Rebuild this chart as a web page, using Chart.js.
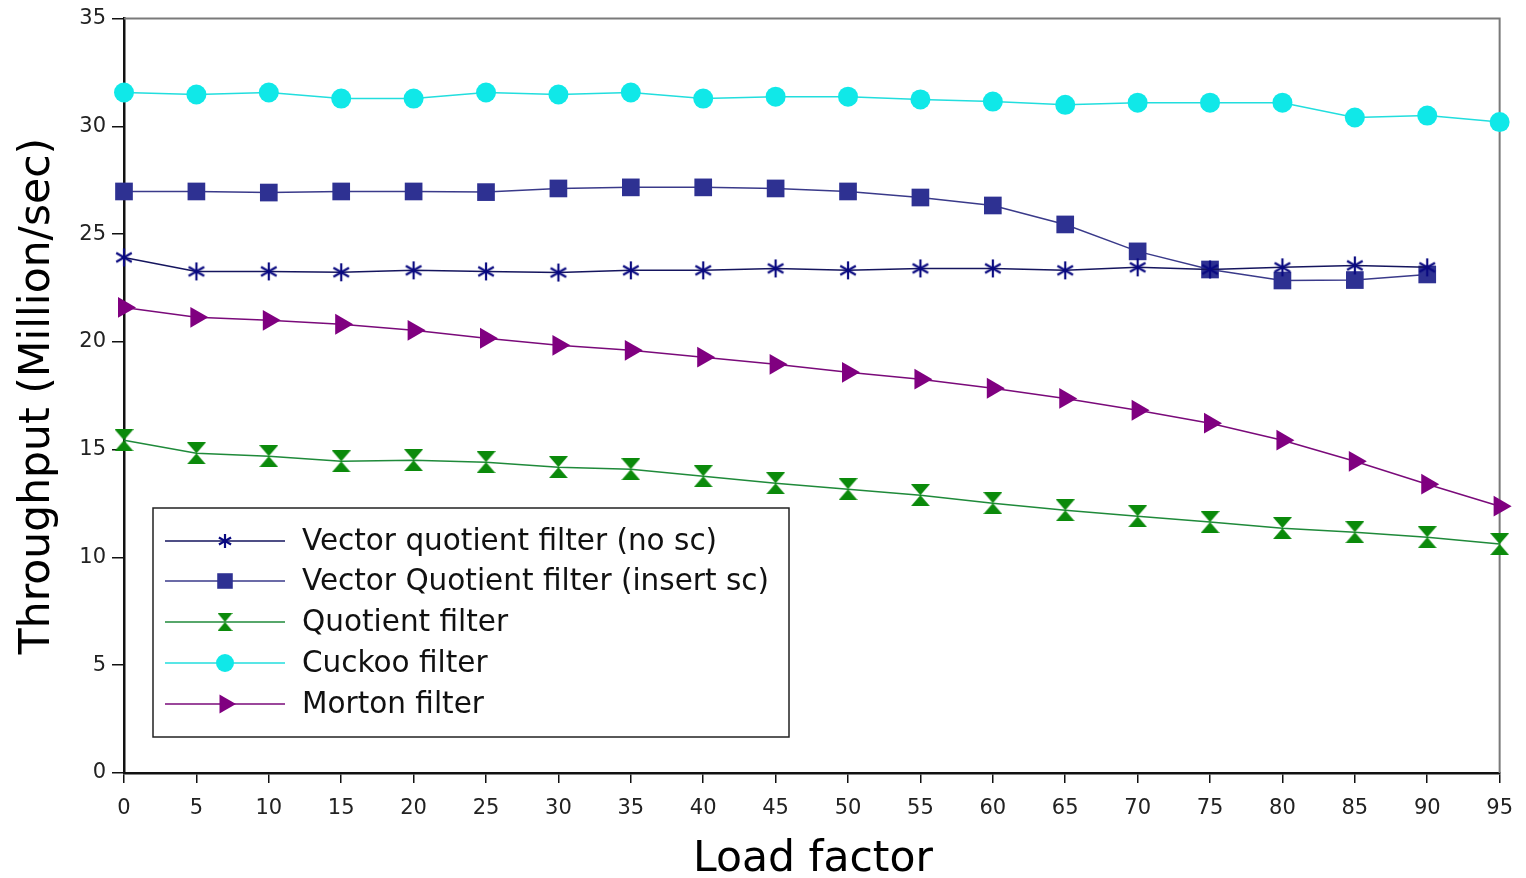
<!DOCTYPE html>
<html>
<head>
<meta charset="utf-8">
<script src="https://cdn.jsdelivr.net/npm/chart.js@4.4.1/dist/chart.umd.min.js"></script>
<style>
    html, body { margin: 0; padding: 0; background: #ffffff; }
    #wrap { width: 1526px; height: 878px; position: relative; }
</style>
</head>
<body>
<div id="wrap"><canvas id="chart"></canvas></div>
<script>
// load factor (%) on the x axis
const loadFactor = [0, 5, 10, 15, 20, 25, 30, 35, 40, 45, 50, 55, 60, 65, 70, 75, 80, 85, 90, 95];

// throughput, million ops / sec
const vqfNoSc     = [23.92, 23.27, 23.27, 23.23, 23.32, 23.27, 23.22, 23.32, 23.32, 23.41, 23.32, 23.41, 23.41, 23.32, 23.46, 23.36, 23.46, 23.55, 23.46, null];
const vqfInsertSc = [26.98, 26.98, 26.93, 26.98, 26.98, 26.95, 27.12, 27.17, 27.17, 27.12, 26.98, 26.70, 26.33, 25.45, 24.20, 23.36, 22.85, 22.87, 23.13, null];
const quotient    = [15.44, 14.83, 14.70, 14.46, 14.51, 14.42, 14.19, 14.09, 13.77, 13.44, 13.17, 12.89, 12.52, 12.19, 11.91, 11.64, 11.36, 11.17, 10.94, 10.62];
const cuckoo      = [31.57, 31.48, 31.57, 31.29, 31.29, 31.57, 31.48, 31.57, 31.29, 31.38, 31.38, 31.25, 31.15, 31.00, 31.10, 31.10, 31.10, 30.41, 30.50, 30.20];
const morton      = [21.60, 21.14, 21.00, 20.82, 20.54, 20.17, 19.84, 19.61, 19.29, 18.96, 18.59, 18.27, 17.85, 17.38, 16.83, 16.23, 15.44, 14.46, 13.40, 12.38];

const seriesNames = [
    'Vector quotient filter (no sc)',
    'Vector Quotient filter (insert sc)',
    'Quotient filter',
    'Cuckoo filter',
    'Morton filter'
];

const yTicks = { min: 0, max: 35, step: 5 };
const xTicks = { min: 0, max: 95, step: 5 };

const PLOT = { left: 124, right: 1503, top: 18, bottom: 773 };
const TEXT_FONT = '"DejaVu Sans"';

function makeAsterisk(size, color)
{
    const c = document.createElement('canvas');
    c.width = size; c.height = size;
    const g = c.getContext('2d');
    const r = size / 2 - 1;
    g.strokeStyle = color;
    g.lineWidth = 2.2;
    g.translate(size / 2, size / 2);
    for (let a of [90, 30, 150])
    {
        const t = a * Math.PI / 180;
        g.beginPath();
        g.moveTo(-r * Math.cos(t), -r * Math.sin(t));
        g.lineTo(r * Math.cos(t), r * Math.sin(t));
        g.stroke();
    }
    return c;
}

function makeHourglass(w, h, color)
{
    const c = document.createElement('canvas');
    c.width = w; c.height = h;
    const g = c.getContext('2d');
    g.fillStyle = color;
    g.beginPath();
    g.moveTo(0, 0); g.lineTo(w, 0); g.lineTo(w / 2, h / 2); g.closePath();
    g.moveTo(0, h); g.lineTo(w, h); g.lineTo(w / 2, h / 2); g.closePath();
    g.fill();
    return c;
}

const starImg = makeAsterisk(20, '#0a0a80');
const hourImg = makeHourglass(19, 22, '#0b8a0b');
const hourImgSmall = makeHourglass(15, 18, '#0b8a0b');
const starImgSmall = makeAsterisk(16, '#0a0a80');

function pts(arr)
{
    return loadFactor.map((x, i) => ({ x: x, y: arr[i] })).filter(p => p.y !== null);
}

const datasets = [
    { label: seriesNames[0], data: pts(vqfNoSc), borderColor: '#15155e', backgroundColor: '#0a0a80',
      pointStyle: starImg, pointRadius: 10, pointRotation: 0 },
    { label: seriesNames[1], data: pts(vqfInsertSc), borderColor: '#3a3a8a', backgroundColor: '#2e3192',
      pointStyle: 'rect', pointRadius: 12.5, pointRotation: 0 },
    { label: seriesNames[2], data: pts(quotient), borderColor: '#1f8a3a', backgroundColor: '#0b8a0b',
      pointStyle: hourImg, pointRadius: 10, pointRotation: 0 },
    { label: seriesNames[3], data: pts(cuckoo), borderColor: '#22dede', backgroundColor: '#10e8e8',
      pointStyle: 'circle', pointRadius: 10, pointRotation: 0 },
    { label: seriesNames[4], data: pts(morton), borderColor: '#7a0a7a', backgroundColor: '#800080',
      pointStyle: 'triangle', pointRadius: 12, pointRotation: 90 }
];

// smaller symbols inside the legend box
const legendStyle = [
    { style: starImgSmall, radius: 8 },
    { style: 'rect', radius: 11 },
    { style: hourImgSmall, radius: 8 },
    { style: 'circle', radius: 9 },
    { style: 'triangle', radius: 11 }
];

datasets.forEach(d =>
{
    d.borderWidth = 1.5;
    d.pointBorderWidth = 0;
    d.pointBorderColor = d.backgroundColor;
    d.pointBackgroundColor = d.backgroundColor;
    d.tension = 0;
    d.clip = false;
});

// frame, axis titles and the boxed legend
const decorations = {
    id: 'decorations',
    beforeDatasetsDraw(chart)
    {
        const ctx = chart.ctx;
        const a = chart.chartArea;
        ctx.save();
        ctx.strokeStyle = '#7a7a7a';
        ctx.lineWidth = 2;
        ctx.beginPath();
        ctx.moveTo(a.left, a.top);
        ctx.lineTo(a.right, a.top);
        ctx.lineTo(a.right, a.bottom);
        ctx.stroke();
        ctx.restore();
    },
    afterDraw(chart)
    {
        const ctx = chart.ctx;
        ctx.save();

        ctx.fillStyle = '#000000';
        ctx.font = '42.5px ' + TEXT_FONT;
        ctx.textAlign = 'center';
        ctx.textBaseline = 'middle';
        ctx.fillText('Load factor', 813, 860);

        ctx.translate(38, 396);
        ctx.rotate(-Math.PI / 2);
        ctx.fillText('Throughput (Million/sec)', 0, 0);
        ctx.setTransform(1, 0, 0, 1, 0, 0);

        // legend box
        const box = { x: 153, y: 508, w: 636, h: 229 };
        ctx.fillStyle = '#ffffff';
        ctx.fillRect(box.x, box.y, box.w, box.h);
        ctx.strokeStyle = '#222222';
        ctx.lineWidth = 1.5;
        ctx.strokeRect(box.x, box.y, box.w, box.h);

        const rowY = [541, 581, 622, 663, 704];
        chart.data.datasets.forEach((d, i) =>
        {
            const y = rowY[i];
            ctx.strokeStyle = d.borderColor;
            ctx.lineWidth = 1.5;
            ctx.beginPath();
            ctx.moveTo(165, y);
            ctx.lineTo(285, y);
            ctx.stroke();

            ctx.fillStyle = d.backgroundColor;
            ctx.strokeStyle = d.backgroundColor;
            Chart.helpers.drawPoint(ctx, {
                pointStyle: legendStyle[i].style,
                radius: legendStyle[i].radius,
                rotation: d.pointRotation,
                borderWidth: 0
            }, 225, y);

            ctx.fillStyle = '#111111';
            ctx.font = '29.5px ' + TEXT_FONT;
            ctx.textAlign = 'left';
            ctx.textBaseline = 'middle';
            ctx.fillText(d.label, 302, y + 1);
        });

        ctx.restore();
    }
};

new Chart(document.getElementById('chart'), {
    type: 'line',
    data: { datasets: datasets },
    plugins: [decorations],
    options: {
        responsive: true,
        maintainAspectRatio: false,
        animation: false,
        events: [],
        layout: {
            autoPadding: false,
            padding: { top: PLOT.top, right: 1526 - PLOT.right, left: 0, bottom: 0 }
        },
        plugins: { legend: { display: false }, tooltip: { enabled: false } },
        scales: {
            x: {
                type: 'linear',
                min: xTicks.min,
                max: xTicks.max,
                afterFit: s => { s.height = 878 - PLOT.bottom; },
                ticks: {
                    stepSize: xTicks.step,
                    color: '#222222',
                    padding: 13,
                    maxRotation: 0,
                    font: { family: 'DejaVu Sans', size: 21 }
                },
                grid: { drawOnChartArea: false, tickLength: 10, color: '#111111', lineWidth: 1.5 },
                border: { color: '#111111', width: 2.5 }
            },
            y: {
                min: yTicks.min,
                max: yTicks.max,
                afterFit: s => { s.width = PLOT.left; },
                ticks: {
                    stepSize: yTicks.step,
                    color: '#222222',
                    padding: 6,
                    font: { family: 'DejaVu Sans', size: 21 }
                },
                grid: { drawOnChartArea: false, tickLength: 12, color: '#111111', lineWidth: 1.5 },
                border: { color: '#111111', width: 2.5 }
            }
        }
    }
});
</script>
</body>
</html>
